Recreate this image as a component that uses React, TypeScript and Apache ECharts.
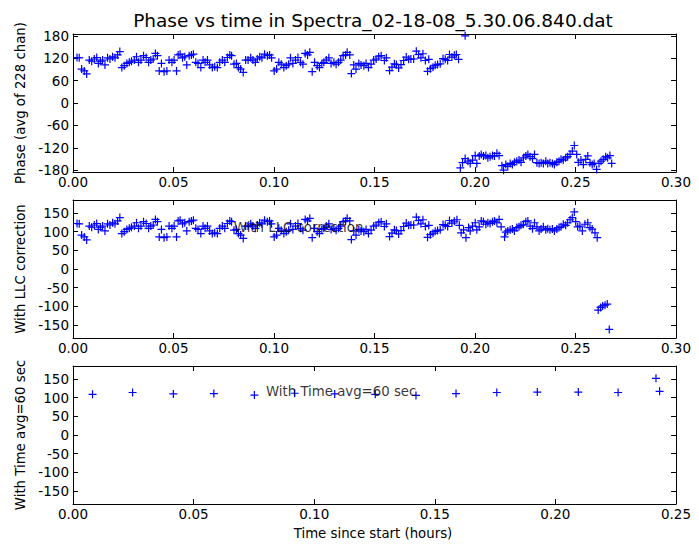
import React, { useEffect, useRef } from "react";
import * as echarts from "echarts";

const titleText = "Phase vs time in Spectra_02-18-08_5.30.06.840.dat";
const yLabelTop = "Phase (avg of 228 chan)";
const yLabelMid = "With LLC correction";
const yLabelBot = "With Time avg=60 sec";
const xLabelBot = "Time since start (hours)";
const noteMid = "With LLC correction";
const noteBot = "With Time avg=60 sec";
const notePos: [number, number] = [0.08, 100];

const yTicksTop = [-180, -120, -60, 0, 60, 120, 180];
const yTicksMid = [-150, -100, -50, 0, 50, 100, 150];
const yTicksBot = [-150, -100, -50, 0, 50, 100, 150];

// Phase vs time (hours, degrees), raw
const topPoints: [number, number][] = [
  [0.0020,122],[0.0031,121],[0.0043,91],[0.0056,86],[0.0068,78],[0.0081,115],[0.0093,112],[0.0106,118],
  [0.0118,122],[0.0126,106],[0.0136,112],[0.0147,115],[0.0159,102],[0.0172,121],[0.0184,118],[0.0197,124],
  [0.0209,121],[0.0222,129],[0.0233,138],[0.0243,95],[0.0255,100],[0.0268,106],[0.0280,109],[0.0291,112],
  [0.0305,115],[0.0316,124],[0.0326,109],[0.0338,115],[0.0351,127],[0.0364,122],[0.0376,109],[0.0387,115],
  [0.0399,118],[0.0410,133],[0.0420,127],[0.0429,86],[0.0440,106],[0.0453,84],[0.0467,86],[0.0478,115],
  [0.0492,109],[0.0503,115],[0.0515,86],[0.0523,129],[0.0533,131],[0.0545,121],[0.0556,124],[0.0566,102],
  [0.0578,127],[0.0589,129],[0.0599,131],[0.0611,109],[0.0622,106],[0.0636,95],[0.0647,115],[0.0657,109],
  [0.0669,115],[0.0680,102],[0.0693,95],[0.0705,97],[0.0718,95],[0.0730,109],[0.0743,115],[0.0755,109],
  [0.0768,122],[0.0780,129],[0.0789,127],[0.0801,104],[0.0813,106],[0.0823,95],[0.0834,91],[0.0847,82],
  [0.0859,115],[0.0871,115],[0.0884,121],[0.0895,115],[0.0907,109],[0.0917,118],[0.0929,124],[0.0940,121],
  [0.0953,131],[0.0967,127],[0.0978,129],[0.0988,121],[0.1001,86],[0.1013,91],[0.1024,109],[0.1036,104],
  [0.1049,95],[0.1061,100],[0.1073,104],[0.1082,121],[0.1094,106],[0.1107,115],[0.1119,122],[0.1132,109],
  [0.1144,104],[0.1155,133],[0.1167,129],[0.1178,136],[0.1190,84],[0.1202,109],[0.1215,100],[0.1226,95],
  [0.1238,106],[0.1248,109],[0.1260,115],[0.1273,121],[0.1284,106],[0.1298,109],[0.1309,104],[0.1321,109],
  [0.1332,115],[0.1344,127],[0.1356,129],[0.1364,136],[0.1377,129],[0.1385,79],[0.1397,102],[0.1408,91],
  [0.1422,106],[0.1433,102],[0.1447,100],[0.1458,106],[0.1470,95],[0.1483,104],[0.1496,115],[0.1508,118],
  [0.1521,124],[0.1533,127],[0.1549,114],[0.1559,121],[0.1575,87],[0.1587,96],[0.1599,105],[0.1609,103],
  [0.1620,94],[0.1632,103],[0.1645,114],[0.1658,123],[0.1670,117],[0.1681,118],[0.1695,118],[0.1708,139],
  [0.1719,130],[0.1731,121],[0.1741,132],[0.1753,114],[0.1764,85],[0.1770,117],[0.1778,92],[0.1791,96],
  [0.1802,101],[0.1814,103],[0.1827,105],[0.1841,119],[0.1852,117],[0.1864,114],[0.1873,130],[0.1885,123],
  [0.1897,128],[0.1907,130],[0.1918,117],[0.1951,180],
  [0.1927,-174],[0.1938,-160],[0.1951,-149],[0.1965,-156],[0.1976,-162],[0.1988,-153],[0.2001,-141],[0.2009,-162],
  [0.2021,-142],[0.2031,-138],[0.2042,-142],[0.2054,-141],[0.2064,-147],[0.2075,-144],[0.2087,-141],[0.2097,-142],
  [0.2109,-135],[0.2120,-141],[0.2134,-168],[0.2142,-180],[0.2153,-165],[0.2163,-170],[0.2175,-162],[0.2186,-165],
  [0.2196,-159],[0.2208,-156],[0.2219,-153],[0.2229,-159],[0.2241,-147],[0.2253,-142],[0.2263,-138],[0.2274,-144],
  [0.2286,-149],[0.2296,-138],[0.2308,-160],[0.2319,-162],[0.2329,-160],[0.2340,-162],[0.2352,-156],[0.2362,-162],
  [0.2373,-160],[0.2385,-162],[0.2395,-165],[0.2407,-159],[0.2418,-156],[0.2428,-151],[0.2439,-153],[0.2451,-147],
  [0.2461,-144],[0.2473,-138],[0.2484,-129],[0.2494,-114],[0.2506,-138],[0.2514,-159],[0.2527,-153],[0.2539,-165],
  [0.2551,-151],[0.2561,-142],[0.2572,-160],[0.2583,-165],[0.2593,-162],[0.2605,-178],[0.2617,-162],[0.2627,-156],
  [0.2638,-151],[0.2650,-144],[0.2660,-147],[0.2671,-141],[0.2680,-162],
];

// LLC-corrected phase: identical to raw before this time, then the corrected tail below
const llcSplitTime = 0.1905;
const llcTail: [number, number][] = [
  [0.1910,132],[0.1922,117],[0.1931,97],[0.1943,105],[0.1955,84],[0.1968,111],[0.1976,102],[0.1988,115],
  [0.2001,124],[0.2009,105],[0.2021,113],[0.2031,129],[0.2042,127],[0.2054,120],[0.2064,124],[0.2075,122],
  [0.2087,127],[0.2097,129],[0.2109,124],[0.2120,133],[0.2130,113],[0.2147,86],[0.2153,99],[0.2163,102],
  [0.2175,105],[0.2186,107],[0.2196,102],[0.2208,111],[0.2219,113],[0.2229,117],[0.2241,120],[0.2253,127],
  [0.2263,129],[0.2274,115],[0.2286,108],[0.2296,124],[0.2308,113],[0.2319,102],[0.2329,107],[0.2340,113],
  [0.2352,105],[0.2362,108],[0.2373,105],[0.2385,107],[0.2395,102],[0.2407,107],[0.2418,111],[0.2428,113],
  [0.2439,120],[0.2451,117],[0.2461,124],[0.2473,132],[0.2484,138],[0.2494,153],[0.2501,127],[0.2511,113],
  [0.2522,115],[0.2534,102],[0.2547,120],[0.2561,124],[0.2572,111],[0.2583,107],[0.2597,97],[0.2608,84],
  [0.2613,-110],[0.2625,-103],[0.2635,-99],[0.2647,-97],[0.2658,-94],[0.2668,-162],
];

// 60-second averages
const avgTimes = [0.0081, 0.0247, 0.0416, 0.0584, 0.0752, 0.0919, 0.1085, 0.1253, 0.1422, 0.1588, 0.1757, 0.1925, 0.2095, 0.2260, 0.2417, 0.2432];
const avgPhases = [109, 114, 110, 111, 107, 112, 110, 109, 106, 111, 114, 115, 115, 114, 152, 117];

const FONT = "DejaVu Sans";
const BLUE = "#0000ff";
const PLUS = "path://M5,0L5,10M0,5L10,5";

const grids = [
  { left: 73, right: 23, top: 34, height: 138 },
  { left: 73, right: 23, top: 200, height: 138 },
  { left: 73, right: 23, top: 366, height: 138 },
];
const xMax = [0.3, 0.3, 0.25];
const yTicks = [yTicksTop, yTicksMid, yTicksBot];
const yLim = 185;
const noteOffsets = [0, -4, -6];

function buildOption() {
  const xAxis: any[] = [];
  const yAxis: any[] = [];
  grids.forEach((_, i) => {
    const common = {
      gridIndex: i,
      type: "value",
      min: 0,
      max: xMax[i],
      interval: 0.05,
      splitLine: { show: false },
      axisLine: { show: true, onZero: false, lineStyle: { color: "#000", width: 1 } },
      axisTick: { show: true, inside: true, length: 5, lineStyle: { color: "#000", width: 1 } },
    };
    xAxis.push({
      ...common,
      position: "bottom",
      axisLabel: {
        show: true,
        color: "#000",
        fontFamily: FONT,
        fontSize: 13.5,
        margin: 3,
        formatter: (v: number) => v.toFixed(2),
      },
    });
    xAxis.push({ ...common, position: "top", axisLabel: { show: false } });
    const ycommon = {
      gridIndex: i,
      type: "value",
      min: -yLim,
      max: yLim,
      splitLine: { show: false },
      axisLine: { show: true, onZero: false, lineStyle: { color: "#000", width: 1 } },
      axisTick: { show: true, inside: true, length: 5, customValues: yTicks[i], lineStyle: { color: "#000", width: 1 } },
    };
    yAxis.push({
      ...ycommon,
      position: "left",
      axisLabel: {
        show: true,
        color: "#000",
        fontFamily: FONT,
        fontSize: 13.5,
        margin: 4,
        customValues: yTicks[i],
      },
    });
    yAxis.push({ ...ycommon, position: "right", axisLabel: { show: false } });
  });

  const scatterBase = {
    type: "scatter",
    symbol: PLUS,
    symbolSize: 8,
    itemStyle: { color: BLUE, borderColor: BLUE, borderWidth: 1.2, opacity: 1 },
    emphasis: { disabled: true },
    clip: false,
  };

  const midPoints = topPoints.filter((p) => p[0] < llcSplitTime).concat(llcTail);
  const avgPoints = avgTimes.map((t, k) => [t, avgPhases[k]]);

  const note = (gi: number, text: string) => ({
    type: "scatter",
    xAxisIndex: gi * 2,
    yAxisIndex: gi * 2,
    data: [notePos],
    symbol: "circle",
    symbolSize: 0,
    z: 10,
    silent: true,
    label: {
      show: true,
      position: "right",
      distance: 0,
      offset: [0, noteOffsets[gi]],
      formatter: text,
      color: "#000",
      fontFamily: FONT,
      fontSize: 13.3,
    },
  });

  const vLabel = (text: string, cy: number) => ({
    type: "text",
    x: 20,
    y: cy,
    rotation: Math.PI / 2,
    style: { text, fill: "#000", font: `13.3px '${FONT}'`, textAlign: "center", textVerticalAlign: "middle" },
  });

  return {
    animation: false,
    backgroundColor: "#fff",
    grid: grids,
    xAxis,
    yAxis,
    series: [
      { ...scatterBase, xAxisIndex: 0, yAxisIndex: 0, data: topPoints },
      { ...scatterBase, xAxisIndex: 2, yAxisIndex: 2, data: midPoints },
      { ...scatterBase, xAxisIndex: 4, yAxisIndex: 4, data: avgPoints },
      note(1, noteMid),
      note(2, noteBot),
    ],
    graphic: [
      {
        type: "text",
        x: 373,
        y: 20,
        style: { text: titleText, fill: "#000", font: `18.5px '${FONT}'`, textAlign: "center", textVerticalAlign: "middle" },
      },
      vLabel(yLabelTop, 103),
      vLabel(yLabelMid, 269),
      vLabel(yLabelBot, 435),
      {
        type: "text",
        x: 373,
        y: 533,
        style: { text: xLabelBot, fill: "#000", font: `13.3px '${FONT}'`, textAlign: "center", textVerticalAlign: "middle" },
      },
    ],
  };
}

export default function App() {
  const ref = useRef<HTMLDivElement>(null);
  useEffect(() => {
    if (!ref.current) return;
    const chart = echarts.init(ref.current, null, { renderer: "svg" });
    chart.setOption(buildOption() as any);
    return () => chart.dispose();
  }, []);
  return (
    <div
      ref={ref}
      style={{ position: "absolute", left: 0, top: 0, width: 699, height: 546, background: "#fff" }}
    />
  );
}
